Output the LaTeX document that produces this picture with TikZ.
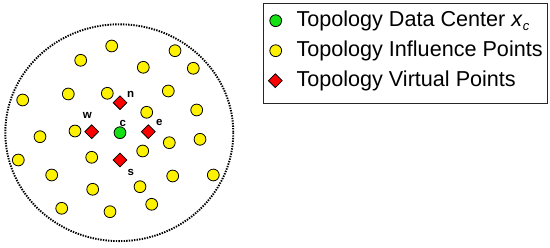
\documentclass[tikz,border=0pt]{standalone}
\usepackage{fontspec}
\setmainfont{Liberation Sans}
\usetikzlibrary{shapes.geometric}
\definecolor{ctrgreen}{RGB}{20,225,20}
\begin{document}
\begin{tikzpicture}[x=1pt,y=-1pt,
  infl/.style={circle,draw=black,fill=yellow,line width=0.8pt,minimum size=11.8pt,inner sep=0pt},
  ctr/.style={circle,draw=black,fill=ctrgreen,line width=0.8pt,minimum size=11.8pt,inner sep=0pt},
  virt/.style={diamond,draw=black,fill=red,line width=0.8pt,minimum size=14pt,inner sep=0pt},
  lbl/.style={font=\fontsize{11.5}{13}\selectfont\bfseries,inner sep=0pt},
  legtxt/.style={font=\fontsize{21.6}{24}\selectfont,anchor=west,inner sep=0pt}]
\useasboundingbox (0,0) rectangle (550,248);
\draw[line width=1.9pt,dash pattern=on 1.4pt off 1.2pt] (119.3,132.7) ellipse [x radius=114,y radius=108.4];
% influence points
\foreach \i/\x/\y in {1/111.7/46,2/175/50.7,3/80.7/60.3,4/143.3/67.3,5/193.3/68.3,6/68.3/94,7/107.3/93.3,8/168.3/91,9/22.7/100,10/196.7/110,11/146.7/112.3,12/75/131,13/40/136.7,14/169.3/142.7,15/200/139.3,16/142.7/151,17/18.3/160,18/91.7/157.3,19/51.7/175,20/172.7/176,21/213.3/175,22/92.7/189.3,23/140/186.7,24/61.7/208.3,25/110/211.7,26/151.7/204.3}
  \node[infl] (p\i) at (\x,\y) {};
\node[ctr] (c) at (120,132.7) {};
\node[virt] (n) at (120,102.7) {};
\node[virt] (w) at (91.7,131.7) {};
\node[virt] (e) at (148.3,131.7) {};
\node[virt] (s) at (120,160) {};
\node[lbl] (ln) at (130.7,94) {n};
\node[lbl] (lw) at (87.3,115.5) {w};
\node[lbl] (lc) at (122.7,123) {c};
\node[lbl] (le) at (159.3,122.5) {e};
\node[lbl] (ls) at (130.7,172.5) {s};
% legend
\node[draw=black!85,line width=1pt,fill=white,minimum width=284pt,minimum height=100pt,anchor=north west,inner sep=0pt] (leg) at (262.7,2.7) {};
\node[ctr] (mc) at (275.7,20.7) {};
\node[infl] (mi) at (275.7,50.7) {};
\node[virt] (mv) at (275.3,80.7) {};
\node[legtxt] (t1) at (296.3,20.7) {Topology Data Center \textit{x}\raisebox{-0.35ex}{\fontsize{13}{14}\selectfont\textit{c}}};
\node[legtxt] (t2) at (296.3,50.7) {Topology Influence Points};
\node[legtxt] (t3) at (296.3,80.7) {Topology Virtual Points};
\end{tikzpicture}
\end{document}
